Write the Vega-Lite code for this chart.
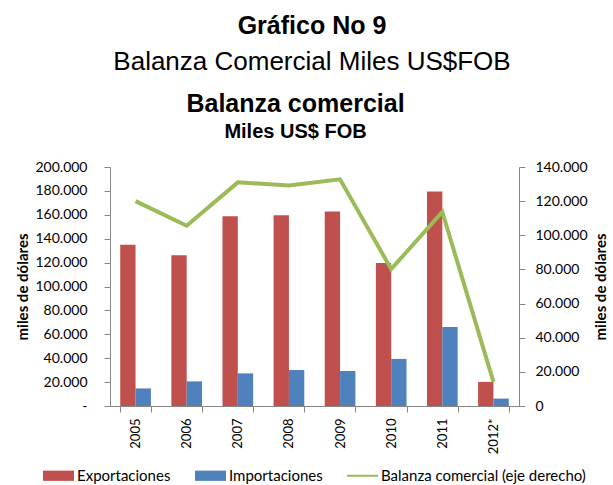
{
  "$schema": "https://vega.github.io/schema/vega-lite/v6.json",
  "padding": {"left": 15, "top": 14, "right": 0, "bottom": 0},
  "background": "white",
  "title": {
    "text": "Gráfico No 9",
    "subtitle": "Balanza Comercial Miles US$FOB",
    "font": "Liberation Sans",
    "fontSize": 25,
    "fontWeight": "bold",
    "color": "#000000",
    "subtitleFont": "Liberation Sans",
    "subtitleFontSize": 26,
    "subtitleFontWeight": "normal",
    "subtitleColor": "#000000",
    "subtitlePadding": 10,
    "offset": 17,
    "anchor": "middle"
  },
  "datasets": {
    "barras": [
      {"year": "2005", "series": "Exportaciones", "value": 134900},
      {"year": "2005", "series": "Importaciones", "value": 14700},
      {"year": "2006", "series": "Exportaciones", "value": 126200},
      {"year": "2006", "series": "Importaciones", "value": 20600},
      {"year": "2007", "series": "Exportaciones", "value": 158800},
      {"year": "2007", "series": "Importaciones", "value": 27300},
      {"year": "2008", "series": "Exportaciones", "value": 159600},
      {"year": "2008", "series": "Importaciones", "value": 30100},
      {"year": "2009", "series": "Exportaciones", "value": 162700},
      {"year": "2009", "series": "Importaciones", "value": 29300},
      {"year": "2010", "series": "Exportaciones", "value": 119700},
      {"year": "2010", "series": "Importaciones", "value": 39400},
      {"year": "2011", "series": "Exportaciones", "value": 179500},
      {"year": "2011", "series": "Importaciones", "value": 66100},
      {"year": "2012*", "series": "Exportaciones", "value": 20200},
      {"year": "2012*", "series": "Importaciones", "value": 6200}
    ],
    "balanza": [
      {"year": "2005", "balanza": 120000},
      {"year": "2006", "balanza": 105600},
      {"year": "2007", "balanza": 131000},
      {"year": "2008", "balanza": 129200},
      {"year": "2009", "balanza": 132800},
      {"year": "2010", "balanza": 80200},
      {"year": "2011", "balanza": 113700},
      {"year": "2012*", "balanza": 14100}
    ]
  },
  "vconcat": [
    {
      "width": 409,
      "height": 239,
      "title": {
        "text": "Balanza comercial",
        "subtitle": "Miles US$ FOB",
        "font": "Liberation Sans",
        "fontSize": 25,
        "fontWeight": "bold",
        "color": "#000000",
        "subtitleFont": "Liberation Sans",
        "subtitleFontSize": 20,
        "subtitleFontWeight": "bold",
        "subtitleColor": "#000000",
        "subtitlePadding": 5,
        "offset": 18,
        "dx": -19,
        "anchor": "middle",
        "frame": "group"
      },
      "layer": [
        {
          "data": {"name": "barras"},
          "mark": {"type": "bar"},
          "encoding": {
            "x": {
              "field": "year",
              "type": "nominal",
              "sort": null,
              "scale": {"domain": ["2005", "2006", "2007", "2008", "2009", "2010", "2011", "2012*"], "paddingInner": 0.4, "paddingOuter": 0.2},
              "axis": {"title": null, "labelAngle": -90, "tickBand": "extent", "labelPadding": 6, "labelFontSize": 13}
            },
            "xOffset": {"field": "series", "type": "nominal", "sort": ["Exportaciones", "Importaciones"], "scale": {"paddingInner": 0, "paddingOuter": 0}},
            "y": {
              "field": "value",
              "type": "quantitative",
              "scale": {"domain": [0, 200000], "nice": false},
              "axis": {
                "title": "miles de dólares",
                "values": [0, 20000, 40000, 60000, 80000, 100000, 120000, 140000, 160000, 180000, 200000],
                "labelExpr": "datum.value == 0 ? '-' : replace(format(datum.value, ','), ',', '.')",
                "labelPadding": 17,
                "titlePadding": 4
              }
            },
            "color": {
              "field": "series",
              "type": "nominal",
              "scale": {
                "domain": ["Exportaciones", "Importaciones", "Balanza comercial (eje derecho)"],
                "range": ["#C0504D", "#4F81BD", "#9BBB59"]
              },
              "legend": {
                "title": null,
                "orient": "bottom",
                "direction": "horizontal",
                "labelLimit": 400,
                "symbolType": "M-1,-0.33L1,-0.33L1,0.33L-1,0.33Z",
                "encode": {
                  "symbols": {
                    "update": {
                      "shape": {"signal": "datum.label === 'Balanza comercial (eje derecho)' ? 'M-1,-0.065L1,-0.065L1,0.065L-1,0.065Z' : 'M-1,-0.33L1,-0.33L1,0.33L-1,0.33Z'"},
                      "fill": {"scale": "color", "field": "value"},
                      "stroke": {"value": "transparent"},
                      "strokeWidth": {"value": 0},
                      "opacity": {"value": 1},
                      "size": {"value": 961}
                    }
                  }
                }
              }
            }
          }
        },
        {
          "data": {"name": "balanza"},
          "mark": {"type": "line", "strokeWidth": 4},
          "encoding": {
            "x": {"field": "year", "type": "nominal", "sort": null},
            "y": {
              "field": "balanza",
              "type": "quantitative",
              "scale": {"domain": [0, 140000], "nice": false},
              "axis": {
                "orient": "right",
                "title": "miles de dólares",
                "titleAngle": 270,
                "titleBaseline": "top",
                "values": [0, 20000, 40000, 60000, 80000, 100000, 120000, 140000],
                "labelExpr": "replace(format(datum.value, ','), ',', '.')",
                "labelPadding": 10,
                "titlePadding": 6
              }
            },
            "color": {"datum": "Balanza comercial (eje derecho)"}
          }
        }
      ],
      "resolve": {"scale": {"y": "independent"}}
    }
  ],
  "config": {
    "view": {"stroke": null},
    "axis": {
      "domainColor": "#868686",
      "tickColor": "#868686",
      "labelColor": "#000000",
      "labelFont": "Lato",
      "labelFontSize": 14,
      "titleFont": "Lato",
      "titleFontSize": 15,
      "titleFontWeight": "bold",
      "titleColor": "#000000",
      "grid": false,
      "tickSize": 6
    },
    "legend": {
      "labelFont": "Lato",
      "labelFontSize": 15,
      "labelColor": "#000000",
      "labelLimit": 400,
      "symbolSize": 961,
      "labelOffset": 3,
      "columnPadding": 24,
      "offset": 6,
      "layout": {"bottom": {"anchor": "middle"}}
    }
  }
}
